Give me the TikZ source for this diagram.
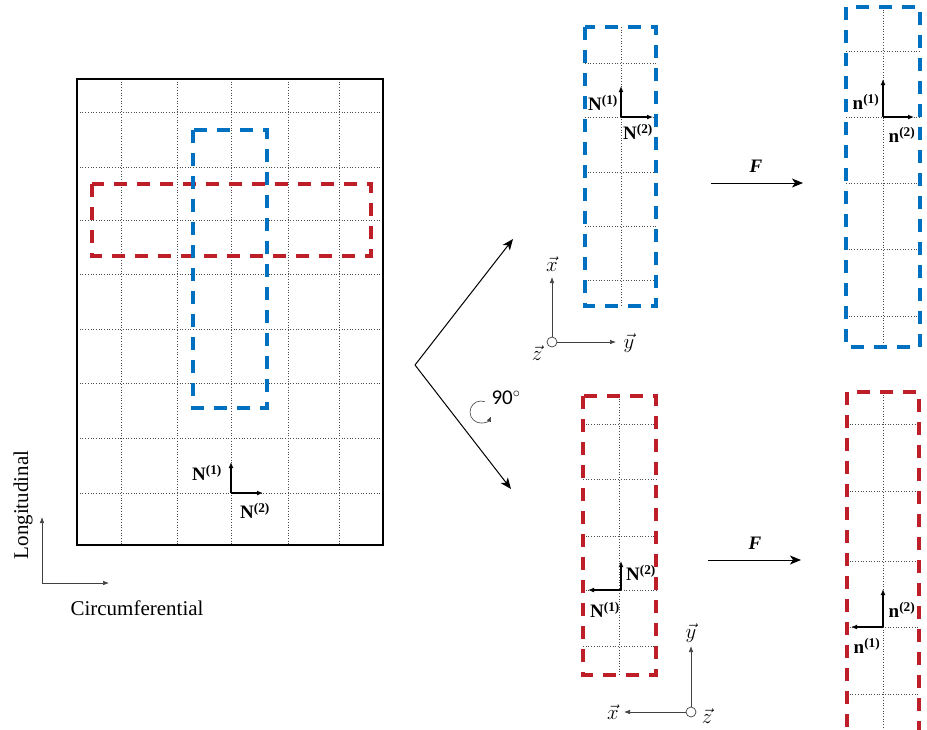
\documentclass[tikz,border=0pt]{standalone}
\usepackage{fontspec}
\setmainfont{Liberation Serif}
\newfontfamily\calib{Carlito}
\usetikzlibrary{arrows.meta}
\definecolor{bl}{RGB}{0,112,192}
\definecolor{rd}{RGB}{190,30,40}
\begin{document}
\begin{tikzpicture}[x=1pt,y=-1pt,
 grid/.style={black!70, dotted, line width=0.7pt},
 bluebox/.style={bl, line width=3.2pt, dash pattern=on 13pt off 10pt},
 redbox/.style={rd, line width=3.2pt, dash pattern=on 13pt off 10pt},
 vecarrow/.style={-{Latex[length=6pt,width=5pt]}, line width=1.4pt},
 axarrow/.style={-{Latex[length=6pt,width=4.5pt]}, line width=0.6pt, black!75},
 bigarrow/.style={-{Stealth[length=11pt,width=9pt,inset=3pt]}, line width=1pt},
 lab/.style={font=\fontsize{19}{19}\selectfont\bfseries, inner sep=0pt},
 txt/.style={font=\fontsize{21}{21}\selectfont, inner sep=0pt},
 vlab/.style={font=\fontsize{21}{21}\selectfont, inner sep=0pt}
]
\useasboundingbox (0,0) rectangle (927,729);

% ---------- main sheet ----------
\foreach \x in {121,177,231,288,339} \draw[grid] (\x,79) -- (\x,545);
\foreach \y in {112,167,220,274,329,383,438,493} \draw[grid] (77,\y) -- (383,\y);
\draw[line width=1.6pt] (77,79) rectangle (383,545);
\draw[redbox] (92,184) rectangle (371,256);
\draw[bluebox] (193,130) rectangle (267,408);

\coordinate (mo) at (231,493);
\coordinate (mu) at (231,462);
\coordinate (mr) at (263,493);
\draw[vecarrow] (mo) -- (mu);
\draw[vecarrow] (mo) -- (mr);
\node[lab] (mN1) at (207,473) {N\textsuperscript{(1)}};
\node[lab] (mN2) at (255,511) {N\textsuperscript{(2)}};

% ---------- direction axes ----------
\coordinate (lo) at (42,583);
\coordinate (lu) at (42,517);
\coordinate (lr) at (109,583);
\draw[axarrow] (lo) -- (lu);
\draw[axarrow] (lo) -- (lr);
\node[txt, rotate=90] (long) at (23,505) {Longitudinal};
\node[txt] (circ) at (137,608) {Circumferential};

% ---------- split arrows ----------
\coordinate (v) at (415,365);
\coordinate (vt) at (513,239);
\coordinate (vb) at (511,489);
\draw[bigarrow] (v) -- (vt);
\draw[bigarrow] (v) -- (vb);
\coordinate (rc) at (481,412);
\draw[black!75, line width=0.6pt, -{Latex[length=5pt,width=4.5pt]}] ([shift={(70:11pt)}]rc) arc[start angle=70, end angle=335, radius=11pt];
\node[font=\calib\fontsize{21}{21}\selectfont, inner sep=0pt] (deg) at (506,398) {90$^\circ$};

% ---------- top middle blue strip ----------
\draw[grid] (621,27) -- (621,306);
\foreach \y in {63,117,172,226,280} \draw[grid] (585,\y) -- (656,\y);
\draw[bluebox] (585,27) rectangle (656,306);
\coordinate (bo) at (621,117);
\coordinate (bu) at (621,86);
\coordinate (br) at (653,117);
\draw[vecarrow] (bo) -- (bu);
\draw[vecarrow] (bo) -- (br);
\node[lab] (bN1) at (603,103) {N\textsuperscript{(1)}};
\node[lab] (bN2) at (638,132) {N\textsuperscript{(2)}};

% axes x y z (top)
\coordinate (ao) at (552,342);
\coordinate (au) at (552,277);
\coordinate (ar) at (616,342);
\draw[black!75, line width=0.7pt] (ao) circle[radius=5pt];
\draw[axarrow] (ao) ++(0,-5) -- (au);
\draw[axarrow] (ao) ++(5,0) -- (ar);
\node[vlab] (ax) at (552,264) {$\vec{x}$};
\node[vlab] (ay) at (629,343) {$\vec{y}$};
\node[vlab] (az) at (537,353) {$\vec{z}$};

% F arrow top
\coordinate (f1a) at (711,183);
\coordinate (f1b) at (803,183);
\draw[bigarrow] (f1a) -- (f1b);
\node[font=\fontsize{19}{19}\selectfont\bfseries\itshape, inner sep=0pt] (F1) at (756,166) {F};

% ---------- top right blue strip ----------
\draw[grid] (883,7) -- (883,347);
\foreach \y in {51,117,183,249,316} \draw[grid] (846,\y) -- (920,\y);
\draw[bluebox] (846,7) rectangle (920,347);
\coordinate (co) at (883,117);
\coordinate (cu) at (883,79);
\coordinate (cr) at (914,117);
\draw[vecarrow] (co) -- (cu);
\draw[vecarrow] (co) -- (cr);
\node[lab] (cn1) at (866,102) {n\textsuperscript{(1)}};
\node[lab] (cn2) at (902,135) {n\textsuperscript{(2)}};

% ---------- bottom middle red strip ----------
\draw[grid] (619,396) -- (619,675);
\foreach \y in {424,479,536,590,646} \draw[grid] (583,\y) -- (656,\y);
\draw[redbox] (583,396) rectangle (656,675);
\coordinate (ro) at (621,590);
\coordinate (ru) at (621,561);
\coordinate (rl) at (588,590);
\draw[vecarrow] (ro) -- (ru);
\draw[vecarrow] (ro) -- (rl);
\node[lab] (rN2) at (641,573) {N\textsuperscript{(2)}};
\node[lab] (rN1) at (605,610) {N\textsuperscript{(1)}};

% axes x y z (bottom)
\coordinate (bo2) at (691,712);
\coordinate (bu2) at (691,646);
\coordinate (bl2) at (624,712);
\draw[black!75, line width=0.7pt] (bo2) circle[radius=5pt];
\draw[axarrow] (bo2) ++(0,-5) -- (bu2);
\draw[axarrow] (bo2) ++(-5,0) -- (bl2);
\node[vlab] (by) at (691,633) {$\vec{y}$};
\node[vlab] (bx) at (613,712) {$\vec{x}$};
\node[vlab] (bz) at (707,716) {$\vec{z}$};

% F arrow bottom
\coordinate (f2a) at (708,560);
\coordinate (f2b) at (801,560);
\draw[bigarrow] (f2a) -- (f2b);
\node[font=\fontsize{19}{19}\selectfont\bfseries\itshape, inner sep=0pt] (F2) at (755,543) {F};

% ---------- bottom right red strip ----------
\draw[grid] (883,392) -- (883,735);
\foreach \y in {424,491,561,627,694} \draw[grid] (847,\y) -- (919,\y);
\draw[redbox] (847,392) rectangle (919,734);
\coordinate (do) at (883,627);
\coordinate (du) at (883,589);
\coordinate (dl) at (851,627);
\draw[vecarrow] (do) -- (du);
\draw[vecarrow] (do) -- (dl);
\node[lab] (dn2) at (902,610) {n\textsuperscript{(2)}};
\node[lab] (dn1) at (867,646) {n\textsuperscript{(1)}};
\end{tikzpicture}
\end{document}
